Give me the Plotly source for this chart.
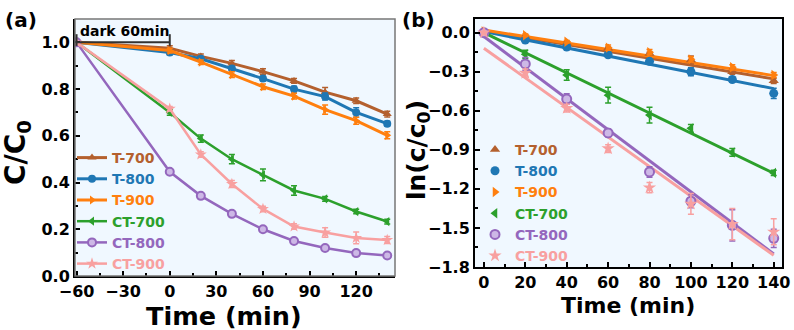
import plotly.graph_objects as go

W, H = 794, 330
FONT = "DejaVu Sans"

# ---------------- data ----------------
names = ["T-700", "T-800", "T-900", "CT-700", "CT-800", "CT-900"]
colors = ["#B4602E", "#1F77B4", "#FF7F0E", "#2CA02C", "#9467BD", "#F8A0A0"]
symbols = ["triangle-up", "circle", "triangle-right", "triangle-left", "circle", "star"]

t_a = [-60, 0, 20, 40, 60, 80, 100, 120, 140]
T700_a = [1.0, 0.975, 0.94, 0.91, 0.875, 0.835, 0.787, 0.75, 0.693]
T800_a = [1.0, 0.957, 0.93, 0.888, 0.845, 0.80, 0.768, 0.70, 0.652]
T900_a = [1.0, 0.965, 0.915, 0.862, 0.81, 0.77, 0.712, 0.665, 0.602]
CT700_a = [1.0, 0.70, 0.588, 0.50, 0.433, 0.366, 0.33, 0.276, 0.233]
CT800_a = [1.0, 0.446, 0.343, 0.266, 0.20, 0.15, 0.12, 0.098, 0.088]
CT900_a = [1.0, 0.716, 0.52, 0.394, 0.287, 0.212, 0.186, 0.163, 0.154]

T700_a_err = [0, .01, .01, .012, .012, .01, .02, .012, .012]
T800_a_err = [0, .01, .01, .01, .01, .012, .015, .02, .01]
T900_a_err = [0, .01, .01, .012, .012, .012, .02, .015, .015]
CT700_a_err = [0, .012, .015, .02, .025, .02, .01, .01, .01]
CT800_a_err = [0, .01, .01, .01, .01, .01, .01, .01, .01]
CT900_a_err = [0, .01, .012, .015, .012, .012, .02, .025, .015]

t_b = [0, 20, 40, 60, 80, 100, 120, 140]
T700_b = [0.0, -0.03, -0.08, -0.12, -0.16, -0.21, -0.30, -0.37]
T800_b = [0.0, -0.056, -0.11, -0.17, -0.22, -0.30, -0.36, -0.466]
T900_b = [0.01, -0.02, -0.07, -0.115, -0.15, -0.205, -0.266, -0.325]
CT700_b = [0.0, -0.166, -0.325, -0.48, -0.633, -0.735, -0.92, -1.077]
CT800_b = [0.0, -0.24, -0.51, -0.77, -1.07, -1.295, -1.48, -1.58]
CT900_b = [0.0, -0.31, -0.58, -0.89, -1.19, -1.315, -1.47, -1.53]

T700_b_err = [0, .01, .01, .01, .01, .03, .02, .02]
T800_b_err = [0, .01, .01, .01, .01, .03, .02, .04]
T900_b_err = [0, .01, .01, .02, .02, .02, .02, .02]
CT700_b_err = [0, .03, .04, .06, .06, .03, .03, .02]
CT800_b_err = [0, .05, .04, .03, .04, .05, .12, .07]
CT900_b_err = [0, .03, .03, .03, .04, .08, .12, .1]

# linear fits (values at t=0 and t=140)
fit_t = [0, 140]
T700_fit = [0.015, -0.355]
T800_fit = [0.008, -0.43]
T900_fit = [0.02, -0.33]
CT700_fit = [0.0, -1.08]
CT800_fit = [-0.03, -1.70]
CT900_fit = [-0.12, -1.71]

dark_start, dark_end = -60, 0

xa_ticks = [-60, -30, 0, 30, 60, 90, 120]
ya_ticks = [0.0, 0.2, 0.4, 0.6, 0.8, 1.0]
xb_ticks = [0, 20, 40, 60, 80, 100, 120, 140]
yb_ticks = [0.0, -0.3, -0.6, -0.9, -1.2, -1.5, -1.8]

series_a = [T700_a, T800_a, T900_a, CT700_a, CT800_a, CT900_a]
errs_a = [T700_a_err, T800_a_err, T900_a_err, CT700_a_err, CT800_a_err, CT900_a_err]
series_b = [T700_b, T800_b, T900_b, CT700_b, CT800_b, CT900_b]
errs_b = [T700_b_err, T800_b_err, T900_b_err, CT700_b_err, CT800_b_err, CT900_b_err]
fits_b = [T700_fit, T800_fit, T900_fit, CT700_fit, CT800_fit, CT900_fit]


def px(x):
    return x / W


def py(y):
    return 1 - y / H


def marker_for(i, size=8):
    c = colors[i]
    if names[i] == "CT-800":
        return dict(symbol="circle", size=size, color="#CDB8E6", line=dict(color=c, width=2))
    return dict(symbol=symbols[i], size=size + 1 if symbols[i] == "star" else size, color=c)


fig = go.Figure()

for i, n in enumerate(names):
    c = colors[i]
    lw = 3 if n.startswith("T-") else 2.5
    fig.add_trace(go.Scatter(
        x=t_a, y=series_a[i], mode="lines+markers",
        name=f"<span style='color:{c}'>{n}</span>",
        line=dict(color=c, width=lw), marker=marker_for(i, 8),
        error_y=dict(type="data", array=errs_a[i], color=c, thickness=1.5, width=3),
        xaxis="x", yaxis="y", legend="legend",
    ))

for i, n in enumerate(names):
    fig.add_trace(go.Scatter(
        x=fit_t, y=fits_b[i], mode="lines", showlegend=False,
        line=dict(color=colors[i], width=3), xaxis="x2", yaxis="y2", hoverinfo="skip",
    ))

for i, n in enumerate(names):
    c = colors[i]
    fig.add_trace(go.Scatter(
        x=t_b, y=series_b[i], mode="markers",
        name=f"<span style='color:{c}'>{n}</span>",
        marker=marker_for(i, 9),
        error_y=dict(type="data", array=errs_b[i], color=c, thickness=1.5, width=3),
        xaxis="x2", yaxis="y2", legend="legend2",
    ))

tickfont = dict(family=FONT, size=16, color="black", weight="bold")
minor_common = dict(ticks="inside", ticklen=3, tickwidth=1.5, tickcolor="black")
axis_common = dict(
    ticks="inside", ticklen=5, tickwidth=1.5, tickcolor="black",
    showgrid=False, zeroline=False, showline=True, linecolor="black", linewidth=2,
    tickfont=tickfont, automargin=False,
)

fig.update_layout(
    width=W, height=H, margin=dict(l=0, r=0, t=0, b=0, autoexpand=False),
    paper_bgcolor="white", plot_bgcolor="#F0F8FF",
    font=dict(family=FONT, color="black"),
    xaxis=dict(domain=[px(75), px(395)], range=[-61, 145], tickvals=xa_ticks,
               minor=dict(dtick=15, tick0=-60, **minor_common),
               anchor="y", **axis_common),
    yaxis=dict(domain=[py(276), py(19)], range=[0, 1.1], tickvals=ya_ticks,
               tickformat=".1f", minor=dict(dtick=0.1, tick0=0, **minor_common),
               anchor="x", **axis_common),
    xaxis2=dict(domain=[px(475), px(782)], range=[-4.3, 144], tickvals=xb_ticks,
                minor=dict(dtick=10, tick0=0, **minor_common),
                anchor="y2", mirror=True, **axis_common),
    yaxis2=dict(domain=[py(267), py(19)], range=[-1.8, 0.105], tickvals=yb_ticks,
                tickformat=".1f", minor=dict(dtick=0.15, tick0=0, **minor_common),
                anchor="x2", mirror=True, **axis_common),
    legend=dict(x=px(72), y=py(142), xanchor="left", yanchor="top",
                bgcolor="rgba(0,0,0,0)", font=dict(family=FONT, size=14, weight="bold"),
                tracegroupgap=0, itemwidth=30),
    legend2=dict(x=px(475), y=py(134), xanchor="left", yanchor="top",
                 bgcolor="rgba(0,0,0,0)", font=dict(family=FONT, size=14, weight="bold"),
                 tracegroupgap=0, itemwidth=30),
)

# gray frame top/right for panel (a)
fig.add_shape(type="rect", xref="x domain", yref="y domain", x0=0, x1=1, y0=0, y1=1,
              line=dict(color="#777777", width=1.5), layer="above")

# dark bracket
fig.add_shape(type="line", xref="x", yref="y", x0=dark_start, x1=dark_end, y0=1.0, y1=1.0,
              line=dict(color="#333333", width=2))
for xv in (dark_start, dark_end):
    fig.add_shape(type="line", xref="x", yref="y", x0=xv, x1=xv, y0=0.985, y1=1.035,
                  line=dict(color="#333333", width=2))
fig.add_annotation(x=(dark_start + dark_end) / 2 + 1, y=1.05, xref="x", yref="y",
                   xanchor="center", yanchor="middle",
                   text="<b>dark 60min</b>", showarrow=False,
                   font=dict(family=FONT, size=14, color="black"))

big = dict(family=FONT, color="black")


def label(x, y, text, size, angle=0):
    fig.add_annotation(x=px(x), y=py(y), xref="paper", yref="paper", text=text,
                       xanchor="center", yanchor="middle", showarrow=False,
                       textangle=angle, font=dict(size=size, **big))


label(224, 316, "<b>Time (min)</b>", 25.5)
label(628, 305, "<b>Time (min)</b>", 22)
label(17, 153, "<b>C/C<sub>0</sub></b>", 28, -90)
label(418, 150, "<b>ln(c/c<sub>0</sub>)</b>", 25, -90)
label(21, 20, "<b>(a)</b>", 20)
label(418, 20, "<b>(b)</b>", 20)

fig.write_html("out.html")
